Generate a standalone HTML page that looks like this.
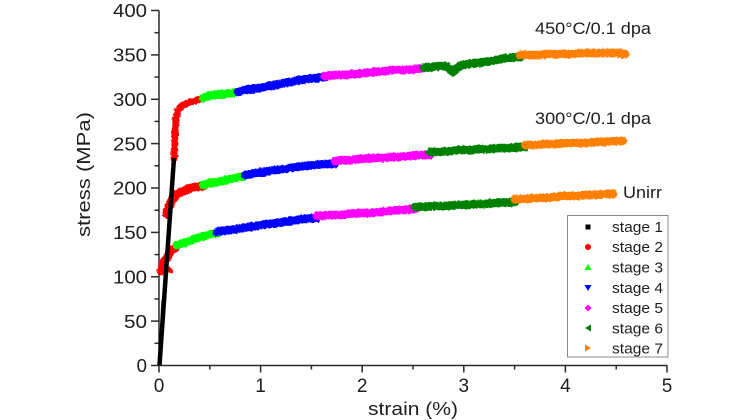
<!DOCTYPE html>
<html>
<head>
<meta charset="utf-8">
<style>
  html, body { margin:0; padding:0; background:#fff; }
  svg { display:block; }
  text { font-family: "Liberation Sans", Arial, sans-serif; fill:#1e1e1e; }
</style>
</head>
<body>
<svg width="747" height="420" viewBox="0 0 747 420" xmlns="http://www.w3.org/2000/svg">
  <defs>
    <filter id="rough" x="-5%" y="-20%" width="110%" height="140%">
      <feTurbulence type="fractalNoise" baseFrequency="0.45" numOctaves="2" seed="3" result="n"/>
      <feDisplacementMap in="SourceGraphic" in2="n" scale="3" xChannelSelector="R" yChannelSelector="G"/>
    </filter>
  </defs>
  <rect x="0" y="0" width="747" height="420" fill="#fff"/>

  <!-- Axes -->
  <g stroke="#2a2a2a" stroke-width="1.5" fill="none">
    <line x1="159" y1="10.5" x2="159" y2="366.2"/>
    <line x1="158.3" y1="365.5" x2="667.5" y2="365.5"/>
    <line x1="151" y1="365.5" x2="159" y2="365.5"/>
    <line x1="151" y1="321.1" x2="159" y2="321.1"/>
    <line x1="151" y1="276.8" x2="159" y2="276.8"/>
    <line x1="151" y1="232.4" x2="159" y2="232.4"/>
    <line x1="151" y1="188" x2="159" y2="188"/>
    <line x1="151" y1="143.6" x2="159" y2="143.6"/>
    <line x1="151" y1="99.3" x2="159" y2="99.3"/>
    <line x1="151" y1="54.9" x2="159" y2="54.9"/>
    <line x1="151" y1="10.5" x2="159" y2="10.5"/>
    <line x1="154.5" y1="343.3" x2="159" y2="343.3"/>
    <line x1="154.5" y1="298.9" x2="159" y2="298.9"/>
    <line x1="154.5" y1="254.6" x2="159" y2="254.6"/>
    <line x1="154.5" y1="210.2" x2="159" y2="210.2"/>
    <line x1="154.5" y1="165.8" x2="159" y2="165.8"/>
    <line x1="154.5" y1="121.4" x2="159" y2="121.4"/>
    <line x1="154.5" y1="77.1" x2="159" y2="77.1"/>
    <line x1="154.5" y1="32.7" x2="159" y2="32.7"/>
    <line x1="159" y1="365.5" x2="159" y2="372.5"/>
    <line x1="260.6" y1="365.5" x2="260.6" y2="372.5"/>
    <line x1="362.2" y1="365.5" x2="362.2" y2="372.5"/>
    <line x1="463.8" y1="365.5" x2="463.8" y2="372.5"/>
    <line x1="565.4" y1="365.5" x2="565.4" y2="372.5"/>
    <line x1="667" y1="365.5" x2="667" y2="372.5"/>
    <line x1="209.8" y1="365.5" x2="209.8" y2="369.5"/>
    <line x1="311.4" y1="365.5" x2="311.4" y2="369.5"/>
    <line x1="413" y1="365.5" x2="413" y2="369.5"/>
    <line x1="514.6" y1="365.5" x2="514.6" y2="369.5"/>
    <line x1="616.2" y1="365.5" x2="616.2" y2="369.5"/>
  </g>

  <!-- Y tick labels -->
  <g font-size="18.6" text-anchor="end">
    <text x="147" y="372.2">0</text>
    <text x="147" y="327.8" textLength="23" lengthAdjust="spacingAndGlyphs">50</text>
    <text x="147" y="283.5" textLength="34" lengthAdjust="spacingAndGlyphs">100</text>
    <text x="147" y="239.1" textLength="34" lengthAdjust="spacingAndGlyphs">150</text>
    <text x="147" y="194.7" textLength="34" lengthAdjust="spacingAndGlyphs">200</text>
    <text x="147" y="150.3" textLength="34" lengthAdjust="spacingAndGlyphs">250</text>
    <text x="147" y="106" textLength="34" lengthAdjust="spacingAndGlyphs">300</text>
    <text x="147" y="61.6" textLength="34" lengthAdjust="spacingAndGlyphs">350</text>
    <text x="147" y="17.2" textLength="34" lengthAdjust="spacingAndGlyphs">400</text>
  </g>

  <!-- X tick labels -->
  <g font-size="19" text-anchor="middle">
    <text x="159" y="392">0</text>
    <text x="260.6" y="392">1</text>
    <text x="362.2" y="392">2</text>
    <text x="463.8" y="392">3</text>
    <text x="565.4" y="392">4</text>
    <text x="667" y="392">5</text>
  </g>

  <!-- Axis titles -->
  <text x="368" y="415" font-size="18" textLength="90" lengthAdjust="spacingAndGlyphs">strain (%)</text>
  <text transform="translate(90,237) rotate(-90)" font-size="18" textLength="125" lengthAdjust="spacingAndGlyphs">stress (MPa)</text>

  <!-- Curves -->
  <g fill="none" stroke-linecap="round" stroke-linejoin="round" stroke-width="8.5" filter="url(#rough)">
    <!-- 450C curve -->
    <path stroke="#ff0000" stroke-width="7" d="M174,158 L175,135 L176,118 L178,110 L181,106 L185,104 L190,102 L195,101 L199,99 L203,98"/>
    <path stroke="#00ff00" d="M203,98 L208,96 L214,95 L220,94 L226,94 L232,93 L238,92"/>
    <path stroke="#0000ff" d="M238,92 L245,90 L252,89 L260,88 L268,86 L276,85 L284,83 L292,82 L300,80 L308,79 L316,78 L325,77"/>
    <path stroke="#ff00ff" d="M325,76 L335,75 L345,75 L355,74 L365,73 L375,72 L385,71 L395,70 L405,70 L415,69 L424,68"/>
    <path stroke="#008000" d="M424,68 L432,67 L440,66 L446,66 L450,69 L453,72 L456,69 L460,66 L468,64 L476,63 L484,62 L492,61 L500,59 L508,58 L520,57"/>
    <path stroke="#ff8000" d="M520,55 L530,55 L540,55 L550,54 L560,54 L570,54 L580,53 L590,53 L600,53 L610,53 L618,53 L625,54"/>

    <!-- 300C curve -->
    <path stroke="#ff0000" stroke-width="9" d="M167,214 L169,206 L172,200 L176,195 L181,192 L186,190 L191,188 L196,187 L203,186"/>
    <path stroke="#00ff00" d="M203,185 L210,183 L218,182 L226,180 L235,178 L245,176"/>
    <path stroke="#0000ff" d="M245,175 L255,173 L265,172 L275,170 L285,169 L295,167 L305,166 L315,165 L325,164 L335,164"/>
    <path stroke="#ff00ff" d="M335,161 L350,160 L360,159 L370,158 L380,158 L390,157 L400,157 L410,156 L420,155 L430,155"/>
    <path stroke="#008000" d="M430,152 L440,152 L450,151 L460,150 L470,150 L480,149 L490,149 L500,148 L510,148 L525,147"/>
    <path stroke="#ff8000" d="M525,145 L535,145 L545,144 L555,144 L565,143 L575,143 L585,143 L595,142 L605,142 L615,141 L623,141"/>

    <!-- Unirr curve -->
    <path stroke="#ff0000" d="M161,271 L163,265 L166,259 L169,254 L172,250 L177,246"/>
    <path stroke="#ff0000" stroke-width="5" d="M166,268 L171,271"/>
    <path stroke="#00ff00" d="M177,245 L183,243 L190,241 L197,238 L205,236 L211,234 L217,233"/>
    <path stroke="#0000ff" d="M217,232 L227,230 L237,229 L247,227 L257,226 L267,224 L277,223 L290,221 L303,219 L317,218"/>
    <path stroke="#ff00ff" d="M317,216 L330,215 L340,215 L350,214 L360,213 L370,213 L380,212 L390,211 L400,210 L415,209"/>
    <path stroke="#008000" d="M415,207 L425,207 L435,206 L445,206 L455,205 L465,205 L475,204 L485,204 L495,203 L515,202"/>
    <path stroke="#ff8000" d="M515,199 L525,199 L535,198 L545,198 L555,197 L565,196 L575,196 L585,195 L595,195 L605,194 L613,194"/>
  </g>

  <!-- stage 1 elastic lines -->
  <g fill="none">
    <path stroke="#666" stroke-width="1.5" d="M159,365 L162,300"/>
    <path stroke="#000" stroke-width="4.5" d="M159.5,365 L174,158"/>
  </g>

  <!-- Annotations -->
  <g font-size="17">
    <text x="535" y="34" textLength="116" lengthAdjust="spacingAndGlyphs">450°C/0.1 dpa</text>
    <text x="535" y="124" textLength="116" lengthAdjust="spacingAndGlyphs">300°C/0.1 dpa</text>
    <text x="623" y="198" textLength="39" lengthAdjust="spacingAndGlyphs">Unirr</text>
  </g>

  <!-- Legend -->
  <rect x="567.5" y="215.5" width="100.5" height="141.5" fill="#fff" stroke="#8a8a8a" stroke-width="1"/>
  <rect x="585.5" y="224.5" width="5" height="5" fill="#000"/>
  <circle cx="588" cy="247" r="3" fill="#ff0000"/>
  <polygon points="588,264 591.5,270 584.5,270" fill="#00ff00"/>
  <polygon points="584.5,285 591.5,285 588,291" fill="#0000ff"/>
  <polygon points="588,304.5 591.5,308 588,311.5 584.5,308" fill="#ff00ff"/>
  <polygon points="585,328 591,324.5 591,331.5" fill="#008000"/>
  <polygon points="591,348 585,344.5 585,351.5" fill="#ff8000"/>
  <g font-size="15">
    <text x="612" y="232" textLength="51" lengthAdjust="spacingAndGlyphs">stage 1</text>
    <text x="612" y="252" textLength="51" lengthAdjust="spacingAndGlyphs">stage 2</text>
    <text x="612" y="272.5" textLength="51" lengthAdjust="spacingAndGlyphs">stage 3</text>
    <text x="612" y="293" textLength="51" lengthAdjust="spacingAndGlyphs">stage 4</text>
    <text x="612" y="313" textLength="51" lengthAdjust="spacingAndGlyphs">stage 5</text>
    <text x="612" y="333.5" textLength="51" lengthAdjust="spacingAndGlyphs">stage 6</text>
    <text x="612" y="353.5" textLength="51" lengthAdjust="spacingAndGlyphs">stage 7</text>
  </g>
</svg>
</body>
</html>
